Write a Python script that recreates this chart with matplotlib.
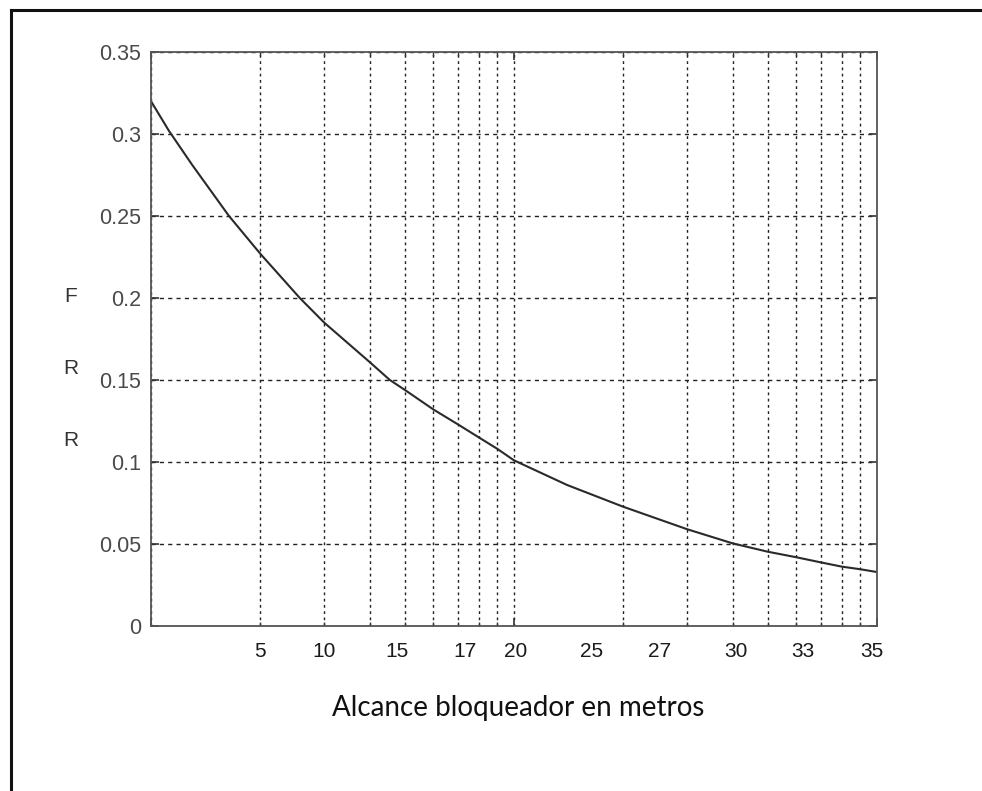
import matplotlib
matplotlib.use("Agg")
import matplotlib.pyplot as plt
from matplotlib.lines import Line2D
from matplotlib.ticker import LogLocator, NullFormatter
import matplotlib.transforms as mtransforms

# ================================
# Data
# ================================
# x on a log axis (1..100), FRR values read at gridlines / crossings
x_vals = [1, 1.12, 1.3, 1.64, 2, 2.57, 3, 4, 4.55, 5, 6, 7, 8, 9, 10,
          14, 20, 30, 40, 50, 60, 70, 80, 90, 100]
frr_vals = [0.320, 0.302, 0.281, 0.250, 0.227, 0.200, 0.185, 0.161, 0.150, 0.144,
            0.132, 0.123, 0.115, 0.108, 0.101,
            0.086, 0.0727, 0.059, 0.0504, 0.0453, 0.0419, 0.0388, 0.0362, 0.0346, 0.0329]

# x tick labels as written on the picture (not on gridlines)
x_labels = ["5", "10", "15", "17", "20", "25", "27", "30", "33", "35"]
x_label_pos = [2, 3, 4.76, 7.33, 10.1, 16.4, 25.2, 40.9, 62.5, 96.8]

y_ticks = [0, 0.05, 0.1, 0.15, 0.2, 0.25, 0.3, 0.35]
y_labels = ["0", "0.05", "0.1", "0.15", "0.2", "0.25", "0.3", "0.35"]

# ================================
# Figure
# ================================
plt.rcParams['font.family'] = ['Liberation Sans', 'DejaVu Sans']

fig = plt.figure(figsize=(9.82, 7.91), dpi=100)
ax = fig.add_axes([151 / 982, 165 / 791, 726 / 982, 574 / 791])

ax.plot(x_vals, frr_vals, color='#2a2a2a', lw=1.5)

ax.set_xscale('log')
ax.set_xlim(1, 100)
ax.set_ylim(0, 0.35)

ax.xaxis.set_major_locator(LogLocator(base=10, numticks=10))
ax.xaxis.set_minor_locator(LogLocator(base=10, subs=range(2, 10), numticks=20))
ax.xaxis.set_major_formatter(NullFormatter())
ax.xaxis.set_minor_formatter(NullFormatter())

ax.set_yticks(y_ticks)
ax.set_yticklabels(y_labels, color='#4a4a4a', fontsize=15.5)

ax.tick_params(axis='both', which='both', direction='in', top=True, right=True,
               color='#333333')
ax.tick_params(axis='both', which='major', length=6, width=1.2)
ax.tick_params(axis='x', which='minor', length=3, width=1.0)
ax.tick_params(axis='y', pad=7)

grid_style = dict(color='#222222', linewidth=1.0)
ax.grid(True, axis='y', which='major', linestyle=(0, (3, 3)), **grid_style)
ax.grid(True, axis='x', which='both', linestyle=(0, (2, 2.5)), **grid_style)

for sp in ax.spines.values():
    sp.set_color('#555555')
    sp.set_linewidth(1.3)

# custom x labels
trans = mtransforms.blended_transform_factory(ax.transData, ax.transAxes)
for pos, lab in zip(x_label_pos, x_labels):
    ax.text(pos, -0.045, lab, transform=trans, ha='center', va='center',
            fontsize=15, color='#1a1a1a')

# x axis title
fig.text(518 / 982, 1 - 708 / 791, "Alcance bloqueador en metros",
         family=['Lato', 'DejaVu Sans'], fontsize=20, color='#111111',
         ha='center', va='center')

# vertical F R R label
for ypx, ch in zip([296, 368, 440], ["F", "R", "R"]):
    fig.text(71 / 982, 1 - ypx / 791, ch, fontsize=15, color='#333333',
             ha='center', va='center')

# outer frame (left and top edges)
fig.add_artist(Line2D([11 / 982, 11 / 982], [0, 1 - 10 / 791],
                      color='#111111', lw=2.2, transform=fig.transFigure))
fig.add_artist(Line2D([11 / 982, 1], [1 - 10 / 791, 1 - 10 / 791],
                      color='#111111', lw=2.2, transform=fig.transFigure))

plt.savefig("out.png", dpi=100)
plt.close()
